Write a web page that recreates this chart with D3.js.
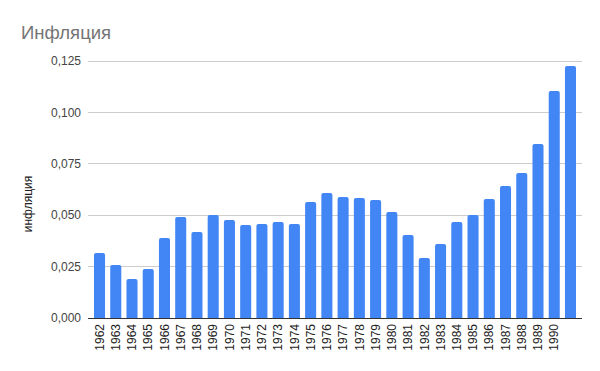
<!DOCTYPE html>
<html><head><meta charset="utf-8">
<script src="https://cdn.jsdelivr.net/npm/d3@7"></script>
<style>body{margin:0;background:#fff}svg{display:block;font-family:Arial,"Liberation Sans",sans-serif}</style>
</head><body>
<svg id="c" width="600" height="371"></svg>
<script>
const years = ["1962","1963","1964","1965","1966","1967","1968","1969","1970","1971","1972","1973","1974","1975","1976","1977","1978","1979","1980","1981","1982","1983","1984","1985","1986","1987","1988","1989","1990","1991"];
const inflation = [0.0316,0.0258,0.0190,0.0238,0.0389,0.0491,0.0418,0.0501,0.0477,0.0452,0.0457,0.0467,0.0457,0.0564,0.0608,0.0589,0.0584,0.0574,0.0516,0.0404,0.0292,0.0360,0.0467,0.0501,0.0579,0.0642,0.0705,0.0846,0.1104,0.1226];
const xLabels = ["1962","1963","1964","1965","1966","1967","1968","1969","1970","1971","1972","1973","1974","1975","1976","1977","1978","1979","1980","1981","1982","1983","1984","1985","1986","1987","1988","1989","1990",""];
const yTicks = [0,0.025,0.05,0.075,0.1,0.125];
const title = "Инфляция";
const yTitle = "инфляция";

const svg = d3.select("#c");
const x = d3.scaleBand().domain(years).range([91.4, 578.6]).paddingInner(0.32).paddingOuter(0.16);
const y = d3.scaleLinear().domain([0,0.125]).range([318,61]);
const fmt = v => d3.format(".3f")(v).replace(".", ",");

// gridlines
svg.append("g").selectAll("line").data(yTicks.filter(d=>d>0)).join("line")
  .attr("x1",88).attr("x2",582).attr("y1",d=>y(d)).attr("y2",d=>y(d))
  .attr("stroke","#cccccc").attr("stroke-width",1).attr("shape-rendering","crispEdges");

// y tick labels
svg.append("g").selectAll("text").data(yTicks).join("text")
  .attr("x",81).attr("y",d=>y(d)).attr("dy","0.35em").attr("text-anchor","end")
  .attr("font-size",12).attr("fill","#444").text(fmt);

// bars with rounded top
const r = 2;
svg.append("g").selectAll("path").data(years).join("path")
  .attr("fill","#4285f4")
  .attr("d",(d,i)=>{
    const x0 = x(d), w = x.bandwidth(), y0 = y(inflation[i]), yb = y(0);
    return `M${x0},${yb}V${y0+r}Q${x0},${y0} ${x0+r},${y0}H${x0+w-r}Q${x0+w},${y0} ${x0+w},${y0+r}V${yb}Z`;
  });

// baseline
svg.append("line").attr("x1",88).attr("x2",582).attr("y1",y(0)).attr("y2",y(0))
  .attr("stroke","#333").attr("stroke-width",1).attr("shape-rendering","crispEdges");

// x labels
svg.append("g").selectAll("text").data(years).join("text")
  .attr("transform",(d)=>`translate(${x(d)+x.bandwidth()/2},324) rotate(-90)`)
  .attr("text-anchor","end").attr("dy","0.35em")
  .attr("font-size",12).attr("fill","#222").text((d,i)=>xLabels[i]);

// title
svg.append("text").attr("x",21).attr("y",39).attr("font-size",18.5)
  .attr("fill","#757575").text(title);

// y axis title
svg.append("text").attr("transform","translate(32,204) rotate(-90)").attr("text-anchor","middle")
  .attr("font-size",12).attr("fill","#222").text(yTitle);
</script>
</body></html>
